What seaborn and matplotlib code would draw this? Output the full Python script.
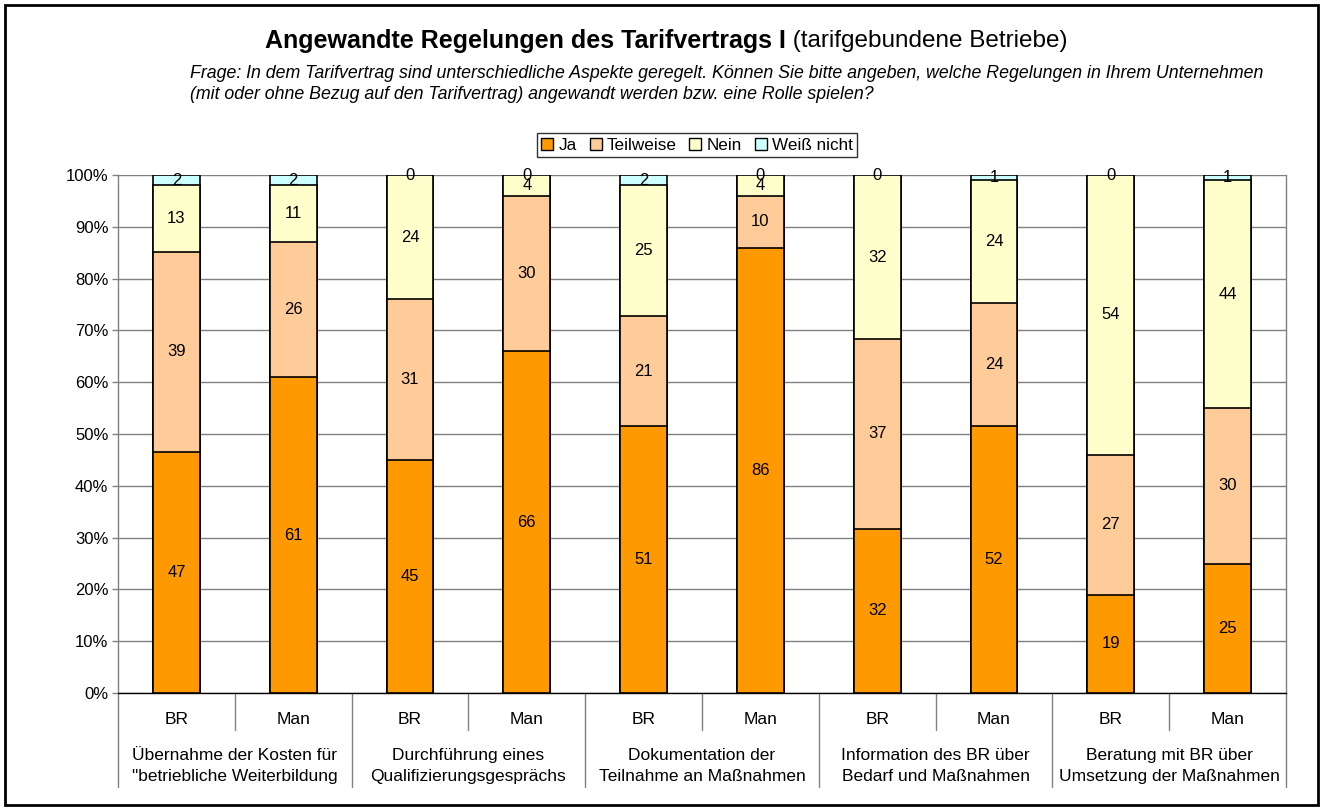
import numpy as np
import pandas as pd
import seaborn as sns
import matplotlib.pyplot as plt
from matplotlib.patches import Patch, Rectangle
from matplotlib.ticker import PercentFormatter

# data
groups = ['Übernahme der Kosten für\n"betriebliche Weiterbildung',
          'Durchführung eines\nQualifizierungsgesprächs',
          'Dokumentation der\nTeilnahme an Maßnahmen',
          'Information des BR über\nBedarf und Maßnahmen',
          'Beratung mit BR über\nUmsetzung der Maßnahmen']
roles = ['BR', 'Man']
series = ['Ja', 'Teilweise', 'Nein', 'Weiß nicht']
ja = [47, 61, 45, 66, 51, 86, 32, 52, 19, 25]
teilweise = [39, 26, 31, 30, 21, 10, 37, 24, 27, 30]
nein = [13, 11, 24, 4, 25, 4, 32, 24, 54, 44]
weiss_nicht = [2, 2, 0, 0, 2, 0, 0, 1, 0, 1]
colors = ['#FF9900', '#FFCC99', '#FFFFCC', '#CCFFFF']

sns.set_theme(style='white')
plt.rcParams['font.family'] = ['Liberation Sans', 'DejaVu Sans']
plt.rcParams['text.color'] = 'black'
plt.rcParams['ytick.color'] = 'black'
plt.rcParams['xtick.color'] = 'black'

vals = np.array([ja, teilweise, nein, weiss_nicht], dtype=float)
share = vals / vals.sum(axis=0) * 100
cum = share.cumsum(axis=0)
bar_ids = [f'b{i}' for i in range(len(ja))]

fig = plt.figure(figsize=(13.21, 8.10), dpi=100)
ax = fig.add_axes([118 / 1321, 1 - 693 / 810, 1168 / 1321, 518 / 810])

# stacked bars: draw cumulative tops from the highest down
for k in range(len(series) - 1, -1, -1):
    df = pd.DataFrame({'bar': bar_ids, 'top': cum[k]})
    sns.barplot(data=df, x='bar', y='top', order=bar_ids, color=colors[k],
                width=0.4, edgecolor='black', linewidth=1.2, saturation=1,
                ax=ax, zorder=3)

# value labels in the middle of each segment
for i in range(len(bar_ids)):
    for k in range(len(series)):
        lo = cum[k - 1][i] if k > 0 else 0
        mid = (lo + cum[k][i]) / 2
        ax.text(i, mid, f'{int(vals[k][i])}', ha='center', va='center',
                fontsize=12, color='black', zorder=5)

ax.set_ylim(0, 100)
ax.set_xlim(-0.5, len(bar_ids) - 0.5)
ax.set_yticks(np.arange(0, 101, 10))
ax.yaxis.set_major_formatter(PercentFormatter(decimals=0))
ax.tick_params(axis='y', labelsize=12, length=4, width=1, color='#808080',
               labelcolor='black', left=True, pad=3)
ax.set_xticks([])
ax.set_xlabel('')
ax.set_ylabel('')
ax.grid(axis='y', color='#808080', linewidth=1, zorder=0)
ax.set_axisbelow(True)
ax.spines['top'].set_visible(False)
ax.spines['right'].set_color('#808080')
ax.spines['left'].set_color('#808080')
ax.spines['bottom'].set_color('black')
for s in ['left', 'right', 'bottom']:
    ax.spines[s].set_linewidth(1)

# two-level category axis
tr = ax.get_xaxis_transform()
for i in range(len(bar_ids)):
    ax.text(i, -27 / 518, roles[i % 2], transform=tr, ha='center',
            va='center', fontsize=12.5)
for g in range(len(groups)):
    x0 = 2 * g - 0.5
    ax.plot([x0, x0], [0, -94 / 518], transform=tr, color='#808080',
            lw=1, clip_on=False)
    ax.plot([x0 + 1, x0 + 1], [0, -37 / 518], transform=tr, color='#808080',
            lw=1, clip_on=False)
    ax.text(2 * g + 0.5, -73 / 518, groups[g], transform=tr, ha='center',
            va='center', fontsize=12.5, linespacing=1.45)
ax.plot([len(bar_ids) - 0.5] * 2, [0, -94 / 518], transform=tr,
        color='#808080', lw=1, clip_on=False)

# legend
handles = [Patch(facecolor=c, edgecolor='black', linewidth=1) for c in colors]
leg = fig.legend(handles, series, loc='center', ncol=4,
                 bbox_to_anchor=(697 / 1321, 1 - 145 / 810), fontsize=12.3,
                 frameon=True, fancybox=False, handlelength=0.7,
                 handleheight=0.7, handletextpad=0.3, columnspacing=0.75,
                 borderpad=0.25)
leg.get_frame().set_edgecolor('black')
leg.get_frame().set_linewidth(1)

# title and question text
fig.text(786 / 1321, 1 - 41 / 810, 'Angewandte Regelungen des Tarifvertrags I',
         ha='right', va='center', fontsize=18, fontweight='bold')
fig.text(786 / 1321, 1 - 41 / 810, ' (tarifgebundene Betriebe)',
         ha='left', va='center', fontsize=17.5)
fig.text(190 / 1321, 1 - 84 / 810,
         'Frage: In dem Tarifvertrag sind unterschiedliche Aspekte geregelt. '
         'Können Sie bitte angeben, welche Regelungen in Ihrem Unternehmen\n'
         '(mit oder ohne Bezug auf den Tarifvertrag) angewandt werden bzw. '
         'eine Rolle spielen?',
         ha='left', va='center', fontsize=12.8, style='italic', linespacing=1.3)

# outer chart border
fig.patches.append(Rectangle((5 / 1321, 5 / 810), 1313 / 1321, 800 / 810,
                             transform=fig.transFigure, fill=False,
                             edgecolor='black', linewidth=2))

fig.savefig('out.png', dpi=100)
